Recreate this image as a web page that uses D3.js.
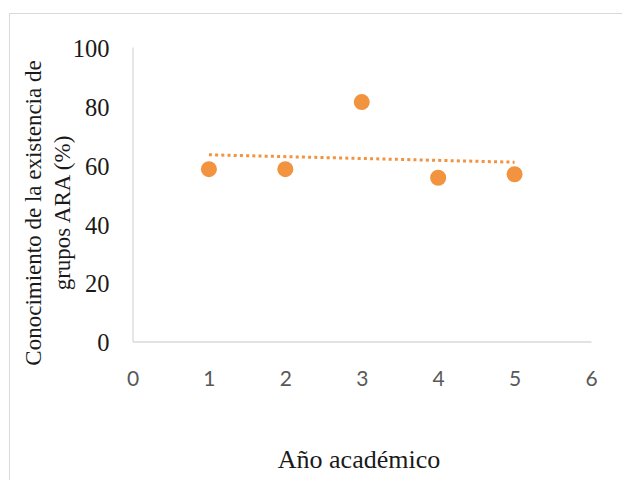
<!DOCTYPE html>
<html>
<head>
<meta charset="utf-8">
<script src="https://cdn.jsdelivr.net/npm/d3@7"></script>
<style>
  html, body { margin: 0; padding: 0; background: #fff; }
  svg { display: block; }
</style>
</head>
<body>
<svg id="chart" width="622" height="480"></svg>
<script>
// Academic year (x) and share of students aware of ARA groups (%)
const years = [1, 2, 3, 4, 5];
const awareness = [58.5, 58.5, 81.3, 55.6, 56.8];
const xTicks = [0, 1, 2, 3, 4, 5, 6];
const yTicks = [0, 20, 40, 60, 80, 100];

const svg = d3.select("#chart");
const orange = "#f29340";
const axisGrey = "#d9d9d9";
const serif = "'Liberation Serif', 'Times New Roman', serif";

// outer chart frame
svg.append("rect")
  .attr("x", 9.5).attr("y", 13.5)
  .attr("width", 640).attr("height", 500)
  .attr("fill", "#fff")
  .attr("stroke", "#d9d9d9").attr("stroke-width", 1);

const x = d3.scaleLinear().domain([0, 6]).range([132.5, 591]);
const y = d3.scaleLinear().domain([0, 100]).range([341.5, 47]);

// y axis: line only, serif labels
const yAxis = d3.axisLeft(y).tickValues(yTicks).tickSize(0).tickPadding(23).tickFormat(d3.format("d"));
const gy = svg.append("g").attr("transform", `translate(${x(0)},0)`).call(yAxis);
gy.select(".domain").attr("stroke", axisGrey).attr("stroke-width", 1.3);
gy.selectAll("text")
  .attr("font-family", serif)
  .attr("font-size", 24.5).attr("fill", "#1a1a1a").attr("dy", "0.38em");

// x axis: line only, sans labels
const xAxis = d3.axisBottom(x).tickValues(xTicks).tickSize(0).tickFormat(d3.format("d"));
const gx = svg.append("g").attr("transform", `translate(0,${y(0)})`).call(xAxis);
gx.select(".domain").attr("stroke", axisGrey).attr("stroke-width", 1.3);
gx.selectAll("text")
  .attr("font-family", "Lato, 'Liberation Sans', sans-serif")
  .attr("font-size", 21).attr("fill", "#595959").attr("dy", "0.35em").attr("y", 37);

// linear trend line (least squares) across the observed years
const mx = d3.mean(years), my = d3.mean(awareness);
const slope = d3.sum(years, (v, i) => (v - mx) * (awareness[i] - my)) / d3.sum(years, v => (v - mx) ** 2);
const intercept = my - slope * mx;
const trend = [d3.min(years), d3.max(years)].map(v => [v, intercept + slope * v]);
svg.append("path")
  .datum(trend)
  .attr("d", d3.line().x(d => x(d[0])).y(d => y(d[1])))
  .attr("fill", "none")
  .attr("stroke", orange)
  .attr("stroke-width", 3)
  .attr("stroke-dasharray", "3 3.2");

// data points
svg.append("g").selectAll("circle")
  .data(years.map((v, i) => [v, awareness[i]]))
  .join("circle")
  .attr("cx", d => x(d[0]))
  .attr("cy", d => y(d[1]))
  .attr("r", 8)
  .attr("fill", orange);

// axis titles
svg.append("text")
  .attr("x", 359).attr("y", 468)
  .attr("text-anchor", "middle")
  .attr("font-family", serif).attr("font-size", 26).attr("fill", "#1a1a1a")
  .text("Año académico");

const yTitle = svg.append("text")
  .attr("transform", "translate(0,213) rotate(-90)")
  .attr("text-anchor", "middle")
  .attr("font-family", serif).attr("font-size", 23).attr("fill", "#1a1a1a");
yTitle.append("tspan").attr("x", 0).attr("y", 41).text("Conocimiento de la existencia de");
yTitle.append("tspan").attr("x", 0).attr("y", 70).text("grupos ARA (%)");
</script>
</body>
</html>
